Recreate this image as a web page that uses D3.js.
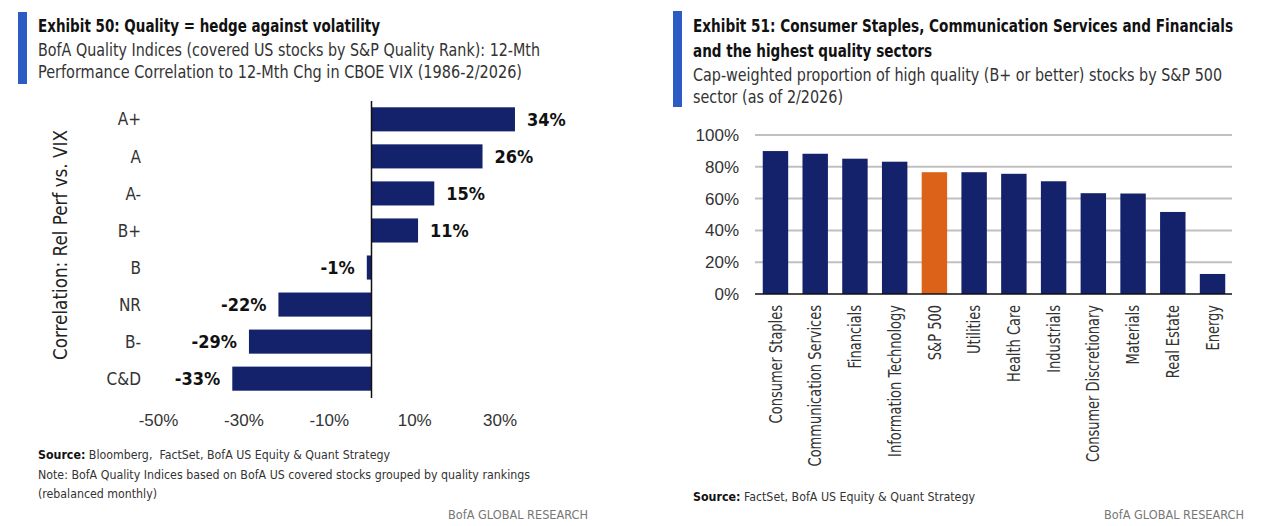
<!DOCTYPE html>
<html>
<head>
<meta charset="utf-8">
<script src="https://cdn.jsdelivr.net/npm/d3@7"></script>
<style>
  body { margin: 0; background: #fff; }
  svg { display: block; font-family: "Liberation Sans Narrow", "DejaVu Sans Condensed", "Roboto", sans-serif; }
  text { white-space: pre; }
</style>
</head>
<body>
<div id="chart"></div>
<script>
// ---- data: Exhibit 50 ----
const qualityRanks = ["A+", "A", "A-", "B+", "B", "NR", "B-", "C&D"];
const vixCorrelation = [0.336, 0.26, 0.147, 0.109, -0.011, -0.218, -0.287, -0.326];
const corrTicks = [-0.5, -0.3, -0.1, 0.1, 0.3];

// ---- data: Exhibit 51 ----
const sectors = ["Consumer Staples", "Communication Services", "Financials", "Information Technology",
  "S&P 500", "Utilities", "Health Care", "Industrials", "Consumer Discretionary",
  "Materials", "Real Estate", "Energy"];
const highQualityShare = [0.899, 0.882, 0.851, 0.832, 0.766, 0.766, 0.756, 0.709, 0.634, 0.632, 0.516, 0.126];
const shareTicks = [0, 0.2, 0.4, 0.6, 0.8, 1.0];

const NAVY = "#14216b", ORANGE = "#dc6219", ACCENT = "#2d5bc4";
// plain hyphen for negatives, like the original
const pct = d3.formatLocale({ decimal: ".", thousands: ",", grouping: [3], currency: ["$", ""], minus: "-" }).format(".0%");

const svg = d3.select("#chart").append("svg")
    .attr("width", 1268)
    .attr("height", 526);

svg.append("rect").attr("width", 1268).attr("height", 526).attr("fill", "#fff");

// squeeze a text line to the width it has in the original (font here is wider)
function fit(sel, w) {
    return sel.attr("textLength", w).attr("lengthAdjust", "spacingAndGlyphs");
}
// squeeze by a factor instead of a fixed width
function condense(sel, k) {
    sel.each(function () {
        const len = this.getComputedTextLength();
        d3.select(this).attr("textLength", len * k).attr("lengthAdjust", "spacingAndGlyphs");
    });
    return sel;
}

// helper for header blocks
function header(x, barX, barY0, barY1, titleLines, subLines) {
    svg.append("rect")
        .attr("x", barX).attr("y", barY0)
        .attr("width", 9).attr("height", barY1 - barY0)
        .attr("fill", ACCENT);
    let y = 32;
    titleLines.forEach(t => {
        fit(svg.append("text").attr("x", x).attr("y", y)
            .attr("font-size", 18).attr("font-weight", "bold").attr("fill", "#111")
            .text(t[0]), t[1]);
        y += 25;
    });
    y -= 1;
    subLines.forEach(t => {
        fit(svg.append("text").attr("x", x).attr("y", y)
            .attr("font-size", 17).attr("fill", "#333")
            .text(t[0]), t[1]);
        y += 22;
    });
}

// ================= Exhibit 50 =================
header(38, 18, 12, 84,
    [["Exhibit 50: Quality = hedge against volatility", 342]],
    [["BofA Quality Indices (covered US stocks by S&P Quality Rank): 12-Mth", 502],
     ["Performance Correlation to 12-Mth Chg in CBOE VIX (1986-2/2026)", 484]]);

const xCorr = d3.scaleLinear().domain([-0.5, 0.5]).range([158, 585]);
const yRank = d3.scaleBand().domain(qualityRanks).range([101, 397]).paddingInner(0.35).paddingOuter(0.17);

const left = svg.append("g");
const corrData = qualityRanks.map((r, i) => ({ rank: r, v: vixCorrelation[i] }));

left.selectAll("rect.bar")
    .data(corrData)
    .join("rect")
    .attr("class", "bar")
    .attr("x", d => xCorr(Math.min(0, d.v)))
    .attr("y", d => yRank(d.rank))
    .attr("width", d => Math.abs(xCorr(d.v) - xCorr(0)))
    .attr("height", yRank.bandwidth())
    .attr("fill", NAVY);

// zero line
left.append("line")
    .attr("x1", xCorr(0)).attr("x2", xCorr(0))
    .attr("y1", 101).attr("y2", 398)
    .attr("stroke", "#111").attr("stroke-width", 1.5);

// value labels
left.selectAll("text.val")
    .data(corrData)
    .join("text")
    .attr("class", "val")
    .attr("x", d => d.v >= 0 ? xCorr(d.v) + 12 : xCorr(d.v) - 12)
    .attr("y", d => yRank(d.rank) + yRank.bandwidth() / 2)
    .attr("dy", "0.36em")
    .attr("text-anchor", d => d.v >= 0 ? "start" : "end")
    .attr("font-size", 18).attr("font-weight", "bold").attr("fill", "#111")
    .text(d => pct(d.v));

// category labels
left.selectAll("text.cat")
    .data(corrData)
    .join("text")
    .attr("class", "cat")
    .attr("x", 141)
    .attr("y", d => yRank(d.rank) + yRank.bandwidth() / 2)
    .attr("dy", "0.36em")
    .attr("text-anchor", "end")
    .attr("font-size", 17).attr("fill", "#333")
    .text(d => d.rank);

// x axis
const xAxisL = left.append("g")
    .attr("transform", "translate(0,420)")
    .call(d3.axisBottom(xCorr).tickValues(corrTicks).tickFormat(pct).tickSize(0));
xAxisL.select(".domain").remove();
xAxisL.selectAll("text")
    .attr("y", 0).attr("dy", "0.36em")
    .attr("font-family", null).attr("font-size", 17).attr("fill", "#333");

// y axis title
fit(left.append("text")
    .attr("transform", "translate(67,245) rotate(-90)")
    .attr("text-anchor", "middle")
    .attr("font-size", 20).attr("fill", "#222")
    .text("Correlation: Rel Perf vs. VIX"), 230);

// footnotes
const fnL = fit(left.append("text").attr("x", 38).attr("y", 459).attr("font-size", 13).attr("fill", "#333"), 352);
fnL.append("tspan").attr("font-weight", "bold").attr("fill", "#111").text("Source:");
fnL.append("tspan").text(" Bloomberg,  FactSet, BofA US Equity & Quant Strategy");
fit(left.append("text").attr("x", 38).attr("y", 479).attr("font-size", 13).attr("fill", "#333")
    .text("Note: BofA Quality Indices based on BofA US covered stocks grouped by quality rankings"), 492);
fit(left.append("text").attr("x", 38).attr("y", 498).attr("font-size", 13).attr("fill", "#333")
    .text("(rebalanced monthly)"), 119);
fit(left.append("text").attr("x", 588).attr("y", 519).attr("text-anchor", "end")
    .attr("font-size", 13).attr("fill", "#777").text("BofA GLOBAL RESEARCH"), 140);

// ================= Exhibit 51 =================
header(693, 673, 11, 107,
    [["Exhibit 51: Consumer Staples, Communication Services and Financials", 540],
     ["and the highest quality sectors", 239]],
    [["Cap-weighted proportion of high quality (B+ or better) stocks by S&P 500", 529],
     ["sector (as of 2/2026)", 150]]);

const xSec = d3.scaleBand().domain(sectors).range([756, 1232]).paddingInner(0.36).paddingOuter(0.17);
const yShare = d3.scaleLinear().domain([0, 1]).range([294, 135]);

const right = svg.append("g");
const secData = sectors.map((s, i) => ({ sector: s, v: highQualityShare[i] }));

// gridlines
right.selectAll("line.grid")
    .data(shareTicks.filter(t => t > 0))
    .join("line")
    .attr("class", "grid")
    .attr("x1", 755).attr("x2", 1232)
    .attr("y1", d => yShare(d)).attr("y2", d => yShare(d))
    .attr("stroke", "#c0c0c0").attr("stroke-width", 2);

right.selectAll("rect.bar")
    .data(secData)
    .join("rect")
    .attr("class", "bar")
    .attr("x", d => xSec(d.sector))
    .attr("y", d => yShare(d.v))
    .attr("width", xSec.bandwidth())
    .attr("height", d => yShare(0) - yShare(d.v))
    .attr("fill", d => d.sector === "S&P 500" ? ORANGE : NAVY);

// baseline
right.append("line")
    .attr("x1", 755).attr("x2", 1232)
    .attr("y1", yShare(0)).attr("y2", yShare(0))
    .attr("stroke", "#111").attr("stroke-width", 1.5);

// y axis labels
const yAxisR = right.append("g")
    .attr("transform", "translate(739,0)")
    .call(d3.axisLeft(yShare).tickValues(shareTicks).tickFormat(pct).tickSize(0));
yAxisR.select(".domain").remove();
yAxisR.selectAll("text")
    .attr("x", 0)
    .attr("font-family", null).attr("font-size", 17).attr("fill", "#333");

// category labels (rotated)
const secLabels = right.selectAll("text.cat")
    .data(secData)
    .join("text")
    .attr("class", "cat")
    .attr("transform", d => `translate(${xSec(d.sector) + xSec.bandwidth() / 2},305) rotate(-90)`)
    .attr("dy", "0.36em")
    .attr("text-anchor", "end")
    .attr("font-size", 17).attr("fill", "#333")
    .text(d => d.sector);
condense(secLabels, 0.85);

// footnotes
const fnR = fit(right.append("text").attr("x", 693).attr("y", 501).attr("font-size", 13).attr("fill", "#333"), 282);
fnR.append("tspan").attr("font-weight", "bold").attr("fill", "#111").text("Source:");
fnR.append("tspan").text(" FactSet, BofA US Equity & Quant Strategy");
fit(right.append("text").attr("x", 1244).attr("y", 519).attr("text-anchor", "end")
    .attr("font-size", 13).attr("fill", "#777").text("BofA GLOBAL RESEARCH"), 140);
</script>
</body>
</html>
